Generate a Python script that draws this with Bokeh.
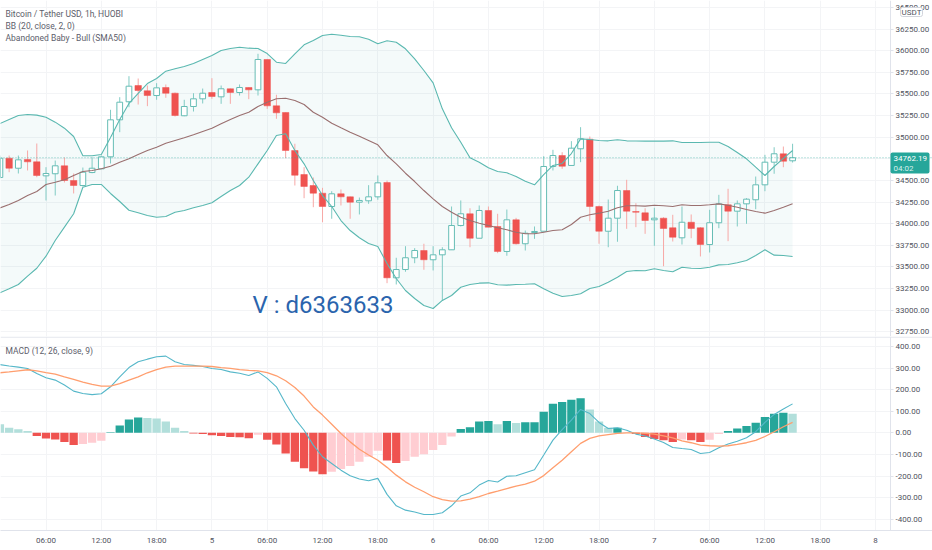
"""BTC/USDT 1h chart with Bollinger bands and MACD, rebuilt with Bokeh."""

from bokeh.embed import file_html
from bokeh.layouts import column
from bokeh.models import BoxAnnotation, ColumnDataSource, FixedTicker, Label, NumeralTickFormatter, Range1d, Span
from bokeh.plotting import figure
from bokeh.resources import INLINE
import pandas as pd

opens = [34534, 34757, 34641, 34742, 34715, 34553, 34577, 34669, 34499, 34441,
         34591, 34634, 34773, 35201, 35410, 35598, 35537, 35482, 35575, 35509,
         35248, 35355, 35444, 35517, 35467, 35560, 35517, 35575, 35548, 35899,
         35363, 35286, 34846, 34568, 34441, 34352, 34198, 34345, 34310, 34248,
         34264, 34310, 34476, 33373, 33469, 33605, 33689, 33582, 33639, 33697,
         33978, 34114, 33831, 34152, 33967, 33678, 34044, 33767, 33897, 33912,
         34661, 34788, 34673, 34866, 34977, 34198, 33912, 34063, 34383, 34140,
         34125, 34044, 34063, 33952, 33836, 34016, 33952, 33758, 34010, 34218,
         34144, 34229, 34276, 34449, 34711, 34808, 34727]
highs = [34788, 34788, 34788, 34846, 34927, 34653, 34730, 34765, 34580, 34649,
         34769, 34788, 35317, 35463, 35706, 35679, 35598, 35625, 35610, 35517,
         35433, 35509, 35563, 35683, 35598, 35563, 35610, 35578, 35965, 35899,
         35491, 35286, 34924, 34653, 34534, 34414, 34375, 34395, 34314, 34302,
         34445, 34557, 34499, 33605, 33739, 33716, 33767, 33739, 33727, 34198,
         34268, 34178, 34210, 34198, 34114, 34163, 34067, 33920, 33967, 34780,
         34854, 34826, 34954, 35116, 35008, 34210, 34279, 34438, 34507, 34236,
         34178, 34183, 34074, 34102, 34198, 34106, 33959, 34160, 34333, 34403,
         34268, 34294, 34545, 34796, 34884, 34892, 34924]
lows = [34522, 34595, 34580, 34615, 34537, 34268, 34325, 34476, 34349, 34430,
        34583, 34634, 34696, 35058, 35347, 35378, 35359, 35433, 35456, 35239,
        35243, 35297, 35390, 35444, 35386, 35386, 35482, 35440, 35482, 35328,
        35213, 34757, 34441, 34294, 34190, 34016, 34056, 34210, 34056, 34106,
        34229, 34276, 33311, 33296, 33443, 33542, 33466, 33458, 33111, 33697,
        33967, 33727, 33831, 33959, 33658, 33628, 33758, 33689, 33824, 33912,
        34615, 34634, 34673, 34711, 34028, 33767, 33727, 33790, 33940, 33959,
        33882, 33743, 33507, 33793, 33758, 33831, 33620, 33666, 33947, 33797,
        33967, 33998, 34167, 34375, 34577, 34653, 34707]
closes = [34757, 34641, 34738, 34715, 34557, 34580, 34669, 34499, 34441, 34595,
          34641, 34773, 35201, 35405, 35590, 35540, 35482, 35571, 35509, 35251,
          35355, 35444, 35509, 35471, 35560, 35517, 35575, 35548, 35899, 35363,
          35282, 34846, 34560, 34430, 34352, 34198, 34345, 34310, 34248, 34268,
          34310, 34472, 33373, 33469, 33605, 33689, 33582, 33639, 33697, 33978,
          34114, 33831, 34152, 33959, 33678, 34044, 33767, 33889, 33909, 34661,
          34788, 34664, 34873, 34981, 34198, 33912, 34063, 34383, 34144, 34132,
          34036, 34063, 33944, 33843, 34016, 33944, 33758, 34010, 34229, 34144,
          34229, 34283, 34449, 34711, 34808, 34722, 34762.19]

bb_upper = [35158, 35205, 35251, 35263, 35255, 35231, 35174, 35104, 35008, 34785,
            34785, 34800, 34996, 35205, 35390, 35506, 35621, 35679, 35764, 35791,
            35818, 35853, 35899, 35945, 36003, 36026, 36041, 36030, 36026, 35968,
            35868, 35853, 35965, 36069, 36119, 36177, 36192, 36180, 36165, 36162,
            36134, 36081, 36115, 36099, 36023, 35907, 35772, 35629, 35328, 35109,
            34942, 34762, 34711, 34646, 34603, 34588, 34545, 34491, 34449, 34568,
            34673, 34696, 34811, 34981, 34973, 34962, 34958, 34970, 34958, 34956,
            34954, 34954, 34954, 34958, 34939, 34939, 34939, 34942, 34942, 34892,
            34823, 34750, 34653, 34557, 34661, 34754, 34846]
bb_basis = [34181, 34221, 34268, 34325, 34372, 34453, 34479, 34507, 34557, 34603,
            34615, 34634, 34664, 34711, 34750, 34800, 34846, 34884, 34931, 34962,
            34993, 35028, 35066, 35104, 35155, 35205, 35251, 35289, 35355, 35405,
            35444, 35451, 35425, 35378, 35289, 35231, 35162, 35109, 35058, 35012,
            34962, 34912, 34788, 34692, 34583, 34487, 34383, 34287, 34198, 34132,
            34074, 34036, 34005, 33978, 33952, 33929, 33901, 33882, 33882, 33901,
            33920, 33929, 33990, 34074, 34102, 34121, 34144, 34183, 34206, 34206,
            34202, 34213, 34206, 34198, 34218, 34210, 34210, 34218, 34229, 34213,
            34190, 34163, 34140, 34121, 34152, 34190, 34229]
bb_lower = [33200, 33246, 33296, 33392, 33484, 33623, 33805, 33959, 34114, 34421,
            34453, 34453, 34349, 34256, 34155, 34125, 34094, 34074, 34082, 34132,
            34152, 34183, 34210, 34241, 34314, 34383, 34441, 34537, 34692, 34846,
            35020, 35039, 34846, 34692, 34499, 34325, 34198, 34036, 33920, 33836,
            33770, 33735, 33539, 33365, 33226, 33134, 33053, 33018, 33111, 33168,
            33264, 33296, 33311, 33315, 33292, 33288, 33296, 33299, 33304, 33246,
            33195, 33157, 33168, 33188, 33249, 33273, 33322, 33380, 33446, 33458,
            33454, 33477, 33458, 33443, 33496, 33484, 33481, 33496, 33523, 33527,
            33547, 33573, 33631, 33697, 33635, 33631, 33620]

macd_line = [316, 309, 304, 298, 275, 255, 244, 221, 193, 182,
             177, 181, 213, 259, 302, 329, 341, 352, 355, 329,
             316, 312, 307, 298, 293, 282, 276, 265, 282, 252,
             213, 136, 66, 12, -57, -111, -142, -173, -199, -214,
             -222, -211, -285, -338, -358, -367, -378, -378, -370, -338,
             -293, -278, -242, -221, -228, -201, -199, -185, -171, -103,
             -34, 15, 59, 108, 89, 48, 20, 23, 12, -6,
             -15, -29, -45, -68, -73, -77, -96, -91, -69, -52,
             -39, -23, 5, 48, 85, 110, 134]
signal_line = [278, 282, 287, 292, 287, 279, 272, 259, 247, 235,
               224, 216, 216, 228, 244, 259, 278, 293, 304, 309,
               309, 309, 309, 307, 302, 298, 293, 289, 287, 279,
               264, 241, 210, 170, 120, 82, 40, -3, -42, -76,
               -103, -127, -160, -196, -227, -252, -273, -296, -309, -316,
               -315, -307, -295, -281, -270, -258, -247, -238, -224, -198,
               -162, -127, -88, -49, -26, -14, -8, -3, 0, 0,
               -3, -6, -14, -23, -37, -46, -57, -60, -62, -60,
               -54, -46, -35, -17, 5, 28, 48]
macd_hist = [40, 23, 17, 8, -15, -26, -31, -43, -56, -52,
             -46, -37, 3, 34, 62, 71, 68, 66, 52, 23,
             8, -3, -6, -11, -15, -19, -20, -25, -9, -32,
             -54, -96, -134, -164, -179, -192, -180, -168, -154, -134,
             -111, -83, -128, -140, -131, -111, -99, -80, -57, -17,
             18, 26, 52, 55, 40, 55, 45, 49, 49, 97,
             134, 143, 153, 160, 108, 52, 23, 23, 1, -6,
             -19, -29, -34, -43, -31, -35, -43, -32, -5, 8,
             20, 31, 46, 73, 88, 93, 88]

# bar index of each time label
time_ticks = [5, 11, 17, 23, 29, 35, 41, 47, 53, 59, 65, 71, 77, 83, 89, 95]
time_labels = ["06:00", "12:00", "18:00", "5", "06:00", "12:00", "18:00", "6",
               "06:00", "12:00", "18:00", "7", "06:00", "12:00", "18:00", "8"]
price_ticks = [32750, 33000, 33250, 33500, 33750, 34000, 34250, 34500,
               34750, 35000, 35250, 35500, 35750, 36000, 36250, 36500]
macd_ticks = [-400, -300, -200, -100, 0, 100, 200, 300, 400]

last_price = 34762.19
countdown = "04:02"
legend_lines = ["Bitcoin / Tether USD, 1h, HUOBI", "BB (20, close, 2, 0)", "Abandoned Baby - Bull (SMA50)"]

FONT = "Roboto"
UP = "#26a69a"
UP_LIGHT = "#b2dfdb"
DOWN = "#ef5350"
DOWN_LIGHT = "#ffcdd2"
GRID = "#f3f4f6"
BORDER = "#e0e3eb"
TEXT = "#50535e"
AXIS_X = 96.63  # the scales sit inside the frame so that labels can cover them

candles = pd.DataFrame({
    "i": range(len(opens)),
    "open": opens,
    "high": highs,
    "low": lows,
    "close": closes,
    "upper": bb_upper,
    "basis": bb_basis,
    "lower": bb_lower,
})
macd = pd.DataFrame({"i": range(len(macd_line)), "macd": macd_line, "signal": signal_line, "hist": macd_hist})

# histogram shade follows the direction of the value, as TradingView does
prev = macd["hist"].shift(1)
macd["color"] = [
    (UP if h >= p else UP_LIGHT) if h >= 0 else (DOWN if h <= p else DOWN_LIGHT)
    for h, p in zip(macd["hist"], prev.fillna(1000))
]

x_range = Range1d(0.063, 101.18)


def style_pane(p, ticks):
    p.outline_line_color = None
    p.xgrid.ticker = FixedTicker(ticks=time_ticks)
    p.ygrid.ticker = FixedTicker(ticks=ticks)
    p.xgrid.grid_line_color = GRID
    p.ygrid.grid_line_color = GRID
    p.yaxis.fixed_location = AXIS_X
    p.yaxis.ticker = FixedTicker(ticks=ticks)
    p.yaxis.formatter = NumeralTickFormatter(format="0.00")
    p.yaxis.axis_line_color = BORDER
    p.yaxis.major_tick_line_color = BORDER
    p.yaxis.major_tick_in = 0
    p.yaxis.major_tick_out = 3
    p.yaxis.minor_tick_line_color = None
    p.yaxis.major_label_standoff = 2
    p.yaxis.major_label_text_font = FONT
    p.yaxis.major_label_text_font_size = "8px"
    p.yaxis.major_label_text_color = TEXT
    # hide the grid where the scale is
    p.add_layout(BoxAnnotation(left=AXIS_X, fill_color="white", fill_alpha=1, line_color=None, level="underlay"))


def price_pane():
    p = figure(
        frame_width=932,
        frame_height=336,
        x_range=x_range,
        y_range=Range1d(32694, 36581.6),
        y_axis_location="right",
        x_axis_location=None,
        output_backend="svg",
        toolbar_location=None,
        min_border=0,
    )
    style_pane(p, price_ticks)

    source = ColumnDataSource(candles)
    rising = ColumnDataSource(candles[candles["close"] >= candles["open"]])
    falling = ColumnDataSource(candles[candles["close"] < candles["open"]])

    p.varea(x="i", y1="lower", y2="upper", source=source, fill_color=UP, fill_alpha=0.05)
    p.add_layout(Span(location=last_price, dimension="width", line_color=UP,
                      line_alpha=0.6, line_dash=[1, 2], line_width=1))

    p.segment(x0="i", y0="low", x1="i", y1="high", source=rising, line_color="#80cbc4", line_width=1)
    p.segment(x0="i", y0="low", x1="i", y1="high", source=falling, line_color="#f7a8a6", line_width=1)
    p.vbar(x="i", bottom="open", top="close", width=0.62, source=rising,
           fill_color="white", line_color="#66bdb5", line_width=1)
    p.vbar(x="i", bottom="close", top="open", width=0.7, source=falling,
           fill_color=DOWN, line_color=DOWN, line_width=0.5)

    p.line(x="i", y="upper", source=source, line_color="#5ab8b0", line_width=1.1)
    p.line(x="i", y="lower", source=source, line_color="#5ab8b0", line_width=1.1)
    p.line(x="i", y="basis", source=source, line_color="#9a6f6f", line_width=1.1)

    for n, text in enumerate(legend_lines):
        p.add_layout(Label(x=5, y=323 - n * 12, x_units="screen", y_units="screen", text=text,
                           text_font=FONT, text_font_size="8.5px", text_color="#5d606b",
                           text_baseline="middle"))

    p.add_layout(Label(x=252, y=17.5, x_units="screen", y_units="screen", text="V : d6363633",
                       text_font=FONT, text_font_size="24px", text_color="#2a64ad"))

    # last price tag
    p.add_layout(BoxAnnotation(left=890, right=929, top=184, bottom=163, left_units="screen", right_units="screen",
                               top_units="screen", bottom_units="screen", fill_color=UP, fill_alpha=1,
                               line_color=None, border_radius=2))
    p.add_layout(Label(x=893, y=178, x_units="screen", y_units="screen", text=f"{last_price:.2f}",
                       text_font=FONT, text_font_size="8px", text_color="white", text_baseline="middle"))
    p.add_layout(Label(x=893, y=168, x_units="screen", y_units="screen", text=countdown,
                       text_font=FONT, text_font_size="8px", text_color="#d5efec", text_baseline="middle"))

    # currency tag
    p.add_layout(BoxAnnotation(left=900, right=922, top=329, bottom=320, left_units="screen", right_units="screen",
                               top_units="screen", bottom_units="screen", fill_color="white", fill_alpha=1,
                               line_color="#d1d4dc", line_alpha=1, line_width=1, border_radius=2))
    p.add_layout(Label(x=911, y=324.5, x_units="screen", y_units="screen", text="USDT",
                       text_font=FONT, text_font_size="8px", text_color=TEXT,
                       text_align="center", text_baseline="middle"))
    return p


def macd_pane():
    p = figure(
        frame_width=932,
        frame_height=194,
        x_range=x_range,
        y_range=Range1d(-452.3, 445.9),
        y_axis_location="right",
        output_backend="svg",
        toolbar_location=None,
        min_border=0,
        min_border_bottom=20,
    )
    style_pane(p, macd_ticks)
    p.xaxis.ticker = FixedTicker(ticks=time_ticks)
    p.xaxis.major_label_overrides = dict(zip(time_ticks, time_labels))
    p.xaxis.axis_line_color = BORDER
    p.xaxis.major_tick_line_color = None
    p.xaxis.major_tick_out = 0
    p.xaxis.major_tick_in = 0
    p.xaxis.minor_tick_line_color = None
    p.xaxis.major_label_standoff = 5
    p.xaxis.major_label_text_font = FONT
    p.xaxis.major_label_text_font_size = "8px"
    p.xaxis.major_label_text_color = TEXT

    source = ColumnDataSource(macd)
    p.vbar(x="i", bottom=0, top="hist", width=0.9, source=source, fill_color="color", line_color=None)
    p.line(x="i", y="macd", source=source, line_color="#55b7c9", line_width=1.1)
    p.line(x="i", y="signal", source=source, line_color="#ff9e6e", line_width=1.3)

    p.add_layout(Span(location=443, dimension="width", line_color=BORDER, line_width=1))
    p.add_layout(Label(x=5, y=180, x_units="screen", y_units="screen", text="MACD (12, 26, close, 9)",
                       text_font=FONT, text_font_size="8.5px", text_color="#5d606b",
                       text_baseline="middle"))
    return p


page = column(price_pane(), macd_pane(), spacing=0)
open("out.html", "w").write(file_html(page, INLINE))
